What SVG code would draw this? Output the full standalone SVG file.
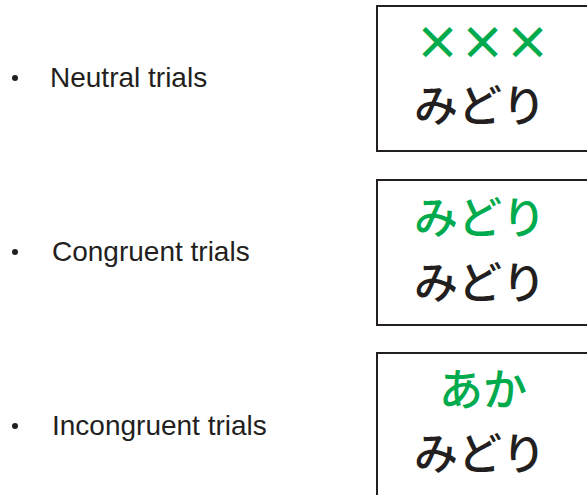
<svg xmlns="http://www.w3.org/2000/svg" width="587" height="495" viewBox="0 0 587 495">
<style>
.box{fill:#fff;stroke:#231f20;stroke-width:2}
.lbl{font-family:"Liberation Sans",Arial,sans-serif;font-size:28px;fill:#231f20}
.jp{font-family:"Noto Sans CJK JP",sans-serif;font-size:44px;font-weight:500;text-anchor:middle}
.x{font-size:46px;font-weight:700}
.g{fill:#00ab4e}
.k{fill:#231f20}
.dot{fill:#231f20}
</style>
<rect width="587" height="495" fill="#fff"/>
<g id="neutral">
<circle class="dot" cx="15" cy="78" r="3"/>
<text class="lbl" x="50" y="87">Neutral trials</text>
<rect class="box" x="377" y="6" width="220" height="145"/>
<text class="jp x g" x="437.5 482.5 527.5" y="58.5">×××</text>
<text class="jp k" x="480" y="122">みどり</text>
</g>
<g id="congruent">
<circle class="dot" cx="15" cy="252" r="3"/>
<text class="lbl" x="52" y="261">Congruent trials</text>
<rect class="box" x="377" y="180" width="220" height="145"/>
<text class="jp g" x="480" y="234">みどり</text>
<text class="jp k" x="480" y="299">みどり</text>
</g>
<g id="incongruent">
<circle class="dot" cx="15" cy="426" r="3"/>
<text class="lbl" x="52" y="435">Incongruent trials</text>
<rect class="box" x="377" y="353" width="220" height="160"/>
<text class="jp g" x="483" y="406">あか</text>
<text class="jp k" x="480" y="470">みどり</text>
</g>
<g id="connectors"/>
</svg>
